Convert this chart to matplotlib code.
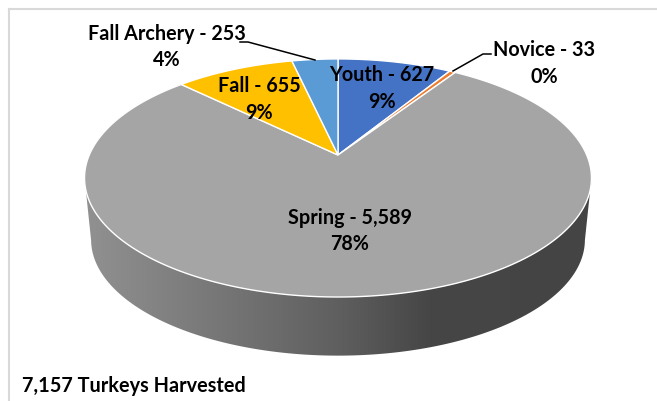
import numpy as np
import matplotlib
matplotlib.use('Agg')
import matplotlib.pyplot as plt
from matplotlib.colors import LinearSegmentedColormap
from matplotlib.patches import Polygon

labels = ['Youth', 'Novice', 'Spring', 'Fall', 'Fall Archery']
values = [627, 33, 5589, 655, 253]
percents = ['9%', '0%', '78%', '9%', '4%']
colors = ['#4472C4', '#ED7D31', '#A5A5A5', '#FFC000', '#5B9BD5']
total_label = '7,157 Turkeys Harvested'

plt.rcParams['font.family'] = ['Lato', 'DejaVu Sans']

# pie is a tilted disc, so turn disc coordinates into pixels with a small perspective
CX, CY = 338, 156
K = 0.193
A = 114.6
B = 248.7
DEPTH = 63


def project(theta, r=1.0):
    # theta in radians clockwise from the top of the disc
    x = r * np.sin(theta)
    y = r * np.cos(theta)
    w = 1 + K * y
    return CX + B * x / w, CY - A * y / w


fig = plt.figure(figsize=(6.57, 4.02), dpi=100)
ax = fig.add_axes([0, 0, 1, 1])

# side of the disc, lower edge a bit smaller than the rim
edge = np.arccos(-K)
t = np.linspace(edge, 2 * np.pi - edge, 300)
rim_x, rim_y = project(t)
low_x, low_y = project(t[::-1], 0.975)
side = Polygon(np.column_stack([np.r_[rim_x, low_x], np.r_[rim_y, low_y + DEPTH]]),
               closed=True, facecolor='none', edgecolor='none')
ax.add_patch(side)
shade = LinearSegmentedColormap.from_list(
    'shade', [(0, '#919191'), (0.5, '#5F5F5F'), (0.68, '#464646'), (1, '#444444')])
img = ax.imshow(np.linspace(0, 1, 256)[None, :], cmap=shade, aspect='auto',
                extent=[rim_x.min(), rim_x.max(), 402, 0], zorder=1)
img.set_clip_path(side)

# top of the disc
start = 0.0
total = sum(values)
for value, color in zip(values, colors):
    sweep = 2 * np.pi * value / total
    t = np.linspace(start, start + sweep, max(int(value / 8), 8))
    xs, ys = project(t)
    ax.add_patch(Polygon(np.column_stack([np.r_[CX, xs], np.r_[CY, ys]]), closed=True,
                         facecolor=color, edgecolor='white', linewidth=1.0, zorder=2))
    start += sweep

# data labels
font = dict(fontsize=14.2, fontweight='bold', color='black', ha='center', va='center',
            linespacing=1.4, zorder=4)
ax.text(382, 88.5, f'{labels[0]} - {values[0]:,}\n{percents[0]}', **font)
ax.text(544, 63.5, f'{labels[1]} - {values[1]:,}\n{percents[1]}', **font)
ax.text(350, 231, f'{labels[2]} - {values[2]:,}\n{percents[2]}', **font)
ax.text(259, 99.5, f'{labels[3]} - {values[3]:,}\n{percents[3]}', **font)
ax.text(167, 47, f'{labels[4]} - {values[4]:,}\n{percents[4]}', **font)
ax.text(22, 386, total_label, fontsize=14.35, fontweight='bold', color='black',
        ha='left', va='center', zorder=4)

# leader lines
ax.plot([453, 483, 491], [72, 55, 55], color='black', lw=1.1, zorder=3)
ax.plot([240, 248, 315], [43, 43, 61], color='black', lw=1.1, zorder=3)

# chart frame
ax.plot([9, 9], [402, 10], color='#D9D9D9', lw=1.5, zorder=0)
ax.plot([9, 657], [10, 10], color='#D9D9D9', lw=1.5, zorder=0)

ax.set_xlim(0, 657)
ax.set_ylim(402, 0)
ax.axis('off')
fig.savefig('out.png', dpi=100)
